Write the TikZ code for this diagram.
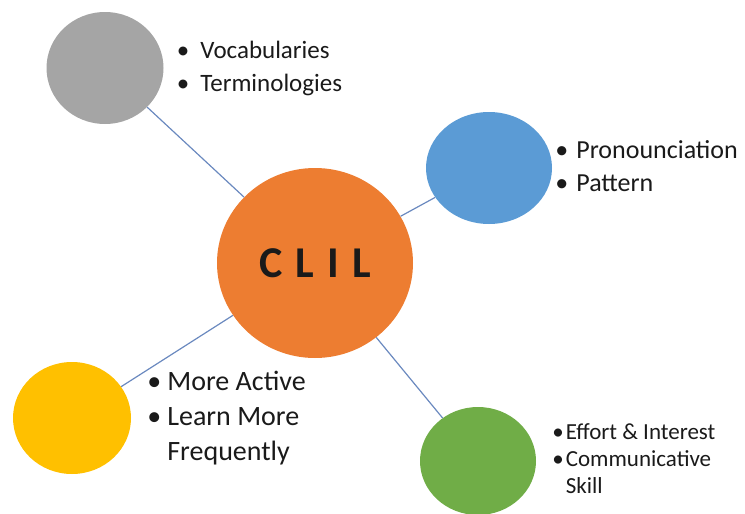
\documentclass[tikz,border=0pt]{standalone}
\usepackage{fontspec}
\setmainfont{Carlito}
\usetikzlibrary{positioning, shapes.geometric}
\definecolor{clilorange}{HTML}{ED7D31}
\definecolor{vocgray}{HTML}{A5A5A5}
\definecolor{pronblue}{HTML}{5B9BD5}
\definecolor{actyellow}{HTML}{FFC000}
\definecolor{effgreen}{HTML}{70AD47}
\definecolor{linkblue}{HTML}{6A89BF}
\definecolor{inkblack}{HTML}{1A1A1A}

% size, baselineskip, gap after bullet, rows
\newcommand{\itemlist}[4]{{\fontsize{#1}{#2}\selectfont
  \begin{tabular}{@{}l@{\hspace{#3}}l@{}}#4\end{tabular}}}

\begin{document}
\begin{tikzpicture}[x=1pt, y=-1pt,
    blob/.style={ellipse, draw=none, inner sep=0pt}, % filled circles
    items/.style={inner sep=0pt, text=inkblack},
    link/.style={draw=linkblue, line width=1.2pt}
    ]
\useasboundingbox (0,0) rectangle (745,514);

\node[blob, fill=clilorange, minimum width=196pt, minimum height=190pt,
      font=\fontsize{44}{44}\selectfont\bfseries, text=inkblack] (clil) at (315,263)
      {C\hspace{0.3em}L\hspace{0.3em}I\hspace{0.3em}L};
\node[blob, fill=vocgray, minimum width=117pt, minimum height=112pt] (voc) at (105,68) {};
\node[blob, fill=pronblue, minimum width=126pt, minimum height=112pt] (pron) at (489,168) {};
\node[blob, fill=actyellow, minimum width=118pt, minimum height=112pt] (act) at (72,418) {};
\node[blob, fill=effgreen, minimum width=116pt, minimum height=108pt] (eff) at (478,461) {};

\draw[link] (voc) -- (clil);
\draw[link] (pron) -- (clil);
\draw[link] (act) -- (clil);
\draw[link] (eff) -- (clil);

\node[items, right=13pt of voc] (voclist) {\itemlist{25}{33}{11pt}{%
  \textbullet & Vocabularies\\ \textbullet & Terminologies}};
\node[items, right=3pt of pron] (pronlist) {\itemlist{26}{33}{8pt}{%
  \textbullet & Pronounciation\\ \textbullet & Pattern}};
\node[items, right=16pt of act] (actlist) {\itemlist{28}{35}{6pt}{%
  \textbullet & More Active\\ \textbullet & Learn More\\ & Frequently}};
\node[items, right=16pt of eff] (efflist) {\itemlist{23}{27}{2pt}{%
  \textbullet & Effort \& Interest\\ \textbullet & Communicative\\ & Skill}};
\end{tikzpicture}
\end{document}
